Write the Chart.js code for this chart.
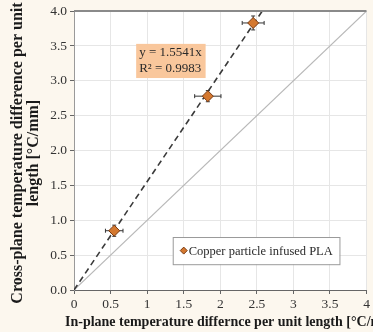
<!DOCTYPE html>
<html>
<head>
<meta charset="utf-8">
<script src="https://cdn.jsdelivr.net/npm/chart.js@4.4.1/dist/chart.umd.min.js"></script>
<style>
  html, body { margin: 0; padding: 0; background: #fcf7ee; }
  #wrap { width: 373px; height: 332px; }
</style>
</head>
<body>
<div id="wrap"><canvas id="chart" width="373" height="332"></canvas></div>
<script>
// measured points (in-plane, cross-plane) with error bars
const inPlane = [0.55, 1.83, 2.45];
const crossPlane = [0.85, 2.78, 3.83];
const xErr = [0.12, 0.18, 0.15];
const yErr = [0.08, 0.08, 0.10];

// linear fit through origin, drawn to the top of the axis
const fitX = [0, 2.574];
const fitY = [0, 4.0];
// y = x reference line
const refX = [0, 4];
const refY = [0, 4];

const xTicks = [0, 0.5, 1, 1.5, 2, 2.5, 3, 3.5, 4];
const yTicks = [0, 0.5, 1, 1.5, 2, 2.5, 3, 3.5, 4];

const fitLabel = ['y = 1.5541x', 'R\u00b2 = 0.9983'];
const seriesName = 'Copper particle infused PLA';
const xTitle = 'In-plane temperature differnce per unit length [\u00b0C/mm]';
const yTitle = ['Cross-plane temperature difference per unit', 'length [\u00b0C/mm]'];

const serif = '"Liberation Serif", "DejaVu Serif", serif';
const toPts = (xs, ys) => xs.map((x, i) => ({ x, y: ys[i] }));

const plotBg = {
  id: 'plotBg',
  beforeDraw(chart) {
    const { ctx, chartArea: a } = chart;
    ctx.save();
    ctx.fillStyle = '#ffffff';
    ctx.fillRect(a.left, a.top, a.right - a.left, a.bottom - a.top);
    ctx.restore();
  },
  afterDatasetsDraw(chart) {
    const { ctx, chartArea: a } = chart;
    ctx.save();
    ctx.strokeStyle = '#8a8a8a';
    ctx.lineWidth = 2;
    ctx.beginPath();
    ctx.moveTo(a.left, a.top);
    ctx.lineTo(a.right, a.top);
    ctx.stroke();
    ctx.restore();
  }
};

// axis titles drawn by hand so they can run past the plot edges like the original
const axisTitles = {
  id: 'axisTitles',
  afterDraw(chart) {
    const { ctx, chartArea: a } = chart;
    ctx.save();
    ctx.fillStyle = '#1a1a1a';
    ctx.textBaseline = 'middle';
    ctx.font = 'bold 14px ' + serif;
    ctx.textAlign = 'left';
    ctx.fillText(xTitle, a.left - 9, 322);

    ctx.font = 'bold 16px ' + serif;
    ctx.textAlign = 'center';
    ctx.translate(0, 153);
    ctx.rotate(-Math.PI / 2);
    ctx.fillText(yTitle[0], 0, 18);
    ctx.fillText(yTitle[1], 0, 34);
    ctx.restore();
  }
};

const errorBars = {
  id: 'errorBars',
  beforeDatasetDraw(chart, args) {
    if (args.index !== 0) return;
    const { ctx, scales: { x, y } } = chart;
    ctx.save();
    ctx.strokeStyle = '#333333';
    ctx.lineWidth = 1;
    inPlane.forEach((v, i) => {
      const cx = x.getPixelForValue(v), cy = y.getPixelForValue(crossPlane[i]);
      const x0 = x.getPixelForValue(v - xErr[i]), x1 = x.getPixelForValue(v + xErr[i]);
      const y0 = y.getPixelForValue(crossPlane[i] - yErr[i]), y1 = y.getPixelForValue(crossPlane[i] + yErr[i]);
      ctx.beginPath();
      ctx.moveTo(x0, cy); ctx.lineTo(x1, cy);
      ctx.moveTo(x0, cy - 2); ctx.lineTo(x0, cy + 2);
      ctx.moveTo(x1, cy - 2); ctx.lineTo(x1, cy + 2);
      ctx.moveTo(cx, y0); ctx.lineTo(cx, y1);
      ctx.moveTo(cx - 2, y0); ctx.lineTo(cx + 2, y0);
      ctx.moveTo(cx - 2, y1); ctx.lineTo(cx + 2, y1);
      ctx.stroke();
    });
    ctx.restore();
  }
};

const boxes = {
  id: 'boxes',
  afterDraw(chart) {
    const { ctx, scales: { x, y } } = chart;
    ctx.save();
    // fit equation box
    const bx = x.getPixelForValue(0.85), by = y.getPixelForValue(3.53);
    const bw = x.getPixelForValue(1.8) - bx, bh = y.getPixelForValue(3.04) - by;
    ctx.fillStyle = '#f9c79c';
    ctx.fillRect(bx, by, bw, bh);
    ctx.fillStyle = '#2a2a2a';
    ctx.font = '13px ' + serif;
    ctx.textAlign = 'left';
    ctx.textBaseline = 'middle';
    ctx.fillText(fitLabel[0], bx + 3, by + 9);
    ctx.fillText(fitLabel[1], bx + 3, by + 25);

    // legend
    const lx = x.getPixelForValue(1.35), ly = y.getPixelForValue(0.76);
    const lw = x.getPixelForValue(3.63) - lx, lh = y.getPixelForValue(0.37) - ly;
    ctx.fillStyle = '#ffffff';
    ctx.fillRect(lx, ly, lw, lh);
    ctx.strokeStyle = '#9a9a9a';
    ctx.lineWidth = 1;
    ctx.strokeRect(lx + 0.5, ly + 0.5, lw, lh);
    const mx = lx + 11, my = ly + lh / 2;
    ctx.beginPath();
    ctx.moveTo(mx, my - 3.5); ctx.lineTo(mx + 3.5, my); ctx.lineTo(mx, my + 3.5); ctx.lineTo(mx - 3.5, my);
    ctx.closePath();
    ctx.fillStyle = '#d4782f';
    ctx.fill();
    ctx.strokeStyle = '#7a3a12';
    ctx.stroke();
    ctx.fillStyle = '#2a2a2a';
    ctx.font = '12.5px ' + serif;
    ctx.fillText(seriesName, mx + 5, my + 1);
    ctx.restore();
  }
};

new Chart(document.getElementById('chart').getContext('2d'), {
  type: 'scatter',
  data: {
    datasets: [
      {
        label: seriesName,
        data: toPts(inPlane, crossPlane),
        pointStyle: 'rectRot',
        pointRadius: 5.5,
        backgroundColor: '#d4782f',
        borderColor: '#7a3a12',
        borderWidth: 1
      },
      {
        label: 'fit',
        data: toPts(fitX, fitY),
        showLine: true,
        pointRadius: 0,
        borderColor: '#3a3a3a',
        borderWidth: 1.6,
        borderDash: [6, 4]
      },
      {
        label: 'y = x',
        data: toPts(refX, refY),
        showLine: true,
        pointRadius: 0,
        borderColor: '#b8b8b8',
        borderWidth: 1.2
      }
    ]
  },
  options: {
    responsive: false,
    animation: false,
    layout: { padding: { top: 11, right: 4, left: 0, bottom: 0 } },
    plugins: {
      legend: { display: false },
      tooltip: { enabled: false }
    },
    scales: {
      x: {
        type: 'linear',
        min: 0,
        max: 4,
        afterBuildTicks: s => { s.ticks = xTicks.map(v => ({ value: v })); },
        afterFit: s => { s.height = 42; },
        ticks: {
          color: '#333333',
          font: { family: serif, size: 13.5 },
          padding: 2,
          callback: v => String(v)
        },
        grid: { color: '#e6e6e6', tickLength: 4, tickColor: '#666666' },
        border: { color: '#666666', width: 1 },
        title: { display: false }
      },
      y: {
        type: 'linear',
        min: 0,
        max: 4,
        afterBuildTicks: s => { s.ticks = yTicks.map(v => ({ value: v })); },
        afterFit: s => { s.width = 74; },
        ticks: {
          color: '#333333',
          font: { family: serif, size: 13.5 },
          padding: 3,
          callback: v => v.toFixed(1)
        },
        grid: { color: '#e6e6e6', tickLength: 4, tickColor: '#666666' },
        border: { color: '#9a9a9a', width: 1 },
        title: { display: false }
      }
    }
  },
  plugins: [plotBg, errorBars, boxes, axisTitles]
});
</script>
</body>
</html>
